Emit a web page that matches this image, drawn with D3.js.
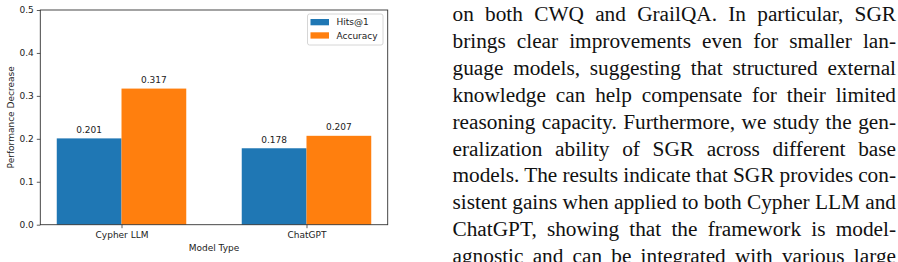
<!DOCTYPE html>
<html>
<head>
<meta charset="utf-8">
<script src="https://cdn.jsdelivr.net/npm/d3@7"></script>
<style>
  html, body { margin: 0; padding: 0; background: #fff; }
  svg { display: block; }
</style>
</head>
<body>
<script>
// chart values
const categories = ["Cypher LLM", "ChatGPT"];
const series = ["Hits@1", "Accuracy"];
const hits = [0.201, 0.178];
const accuracy = [0.317, 0.207];
const yTicks = [0.0, 0.1, 0.2, 0.3, 0.4, 0.5];
const colors = ["#1f77b4", "#ff7f0e"];

// paragraph next to the figure
const lines = [
  "on both CWQ and GrailQA. In particular, SGR",
  "brings clear improvements even for smaller lan-",
  "guage models, suggesting that structured external",
  "knowledge can help compensate for their limited",
  "reasoning capacity. Furthermore, we study the gen-",
  "eralization ability of SGR across different base",
  "models. The results indicate that SGR provides con-",
  "sistent gains when applied to both Cypher LLM and",
  "ChatGPT, showing that the framework is model-",
  "agnostic and can be integrated with various large"
];

const width = 898;
const height = 262;
const plot = { left: 40.3, right: 387.7, top: 10, bottom: 224.7 };
const font = "DejaVu Sans, sans-serif";
const fs = 9;

const svg = d3.select("body").append("svg")
  .attr("width", width)
  .attr("height", height);

const x0 = d3.scalePoint()
  .domain(categories)
  .range([plot.left, plot.right])
  .padding(0.439);

const groupW = 0.35 * x0.step();
const x1 = d3.scaleBand()
  .domain(series)
  .range([-groupW, groupW]);

const y = d3.scaleLinear()
  .domain([0, 0.5])
  .range([plot.bottom, plot.top]);

const rows = categories.map((c, i) => ({ cat: c, values: [hits[i], accuracy[i]] }));

// bars
const groups = svg.append("g")
  .selectAll("g")
  .data(rows)
  .join("g")
  .attr("transform", d => `translate(${x0(d.cat)},0)`);

groups.selectAll("rect")
  .data(d => d.values.map((v, j) => ({ key: series[j], v, j })))
  .join("rect")
  .attr("x", d => x1(d.key))
  .attr("width", x1.bandwidth())
  .attr("y", d => y(d.v))
  .attr("height", d => y(0) - y(d.v))
  .attr("fill", d => colors[d.j]);

// value labels
groups.selectAll("text.val")
  .data(d => d.values.map((v, j) => ({ key: series[j], v })))
  .join("text")
  .attr("class", "val")
  .attr("x", d => x1(d.key) + x1.bandwidth() / 2)
  .attr("y", d => y(d.v) - 5.5)
  .attr("text-anchor", "middle")
  .attr("font-family", font)
  .attr("font-size", fs)
  .attr("fill", "#222")
  .text(d => d3.format(".3f")(d.v));

// axes
svg.append("g")
  .attr("transform", `translate(${plot.left},0)`)
  .call(d3.axisLeft(y).tickValues(yTicks).tickFormat(d3.format(".1f")).tickSize(3.5).tickPadding(3))
  .call(g => g.select(".domain").remove());

svg.append("g")
  .attr("transform", `translate(0,${plot.bottom})`)
  .call(d3.axisBottom(x0).tickSize(3.5).tickPadding(3))
  .call(g => g.select(".domain").remove());

svg.selectAll(".tick line").attr("stroke", "#333").attr("stroke-width", 0.8);
svg.selectAll(".tick text")
  .attr("font-family", font)
  .attr("font-size", fs)
  .attr("fill", "#222");

// frame
svg.append("rect")
  .attr("x", plot.left)
  .attr("y", plot.top)
  .attr("width", plot.right - plot.left)
  .attr("height", plot.bottom - plot.top)
  .attr("fill", "none")
  .attr("stroke", "#333")
  .attr("stroke-width", 0.9);

// axis titles
svg.append("text")
  .attr("x", (plot.left + plot.right) / 2)
  .attr("y", 250.6)
  .attr("text-anchor", "middle")
  .attr("font-family", font)
  .attr("font-size", fs)
  .attr("fill", "#222")
  .text("Model Type");

svg.append("text")
  .attr("transform", `translate(14,${(plot.top + plot.bottom) / 2}) rotate(-90)`)
  .attr("text-anchor", "middle")
  .attr("font-family", font)
  .attr("font-size", fs)
  .attr("fill", "#222")
  .text("Performance Decrease");

// legend
const legend = svg.append("g").attr("transform", "translate(307.5,14)");
legend.append("rect")
  .attr("width", 75.5)
  .attr("height", 31)
  .attr("rx", 2)
  .attr("fill", "#fff")
  .attr("fill-opacity", 0.8)
  .attr("stroke", "#ccc")
  .attr("stroke-width", 0.8);

const item = legend.selectAll("g.item")
  .data(series)
  .join("g")
  .attr("class", "item")
  .attr("transform", (d, i) => `translate(3,${5 + i * 13.3})`);

item.append("rect")
  .attr("width", 18.5)
  .attr("height", 6.3)
  .attr("fill", (d, i) => colors[i]);

item.append("text")
  .attr("x", 26)
  .attr("y", 6.3)
  .attr("font-family", font)
  .attr("font-size", fs)
  .attr("fill", "#222")
  .text(d => d);

// justified paragraph on the right
const textLeft = 452.5;
const textRight = 896;
const bodyFont = 21.3;

const para = svg.append("g")
  .attr("font-family", "Liberation Serif, Times New Roman, serif")
  .attr("font-size", bodyFont)
  .attr("fill", "#111");

para.selectAll("text")
  .data(lines)
  .join("text")
  .attr("x", textLeft)
  .attr("y", (d, i) => 21 + i * 26.9)
  .text(d => d)
  .each(function(d) {
    const natural = this.getComputedTextLength();
    const gaps = d.split(" ").length - 1;
    const extra = (textRight - textLeft - natural) / gaps;
    d3.select(this).style("word-spacing", extra + "px");
  });
</script>
</body>
</html>
